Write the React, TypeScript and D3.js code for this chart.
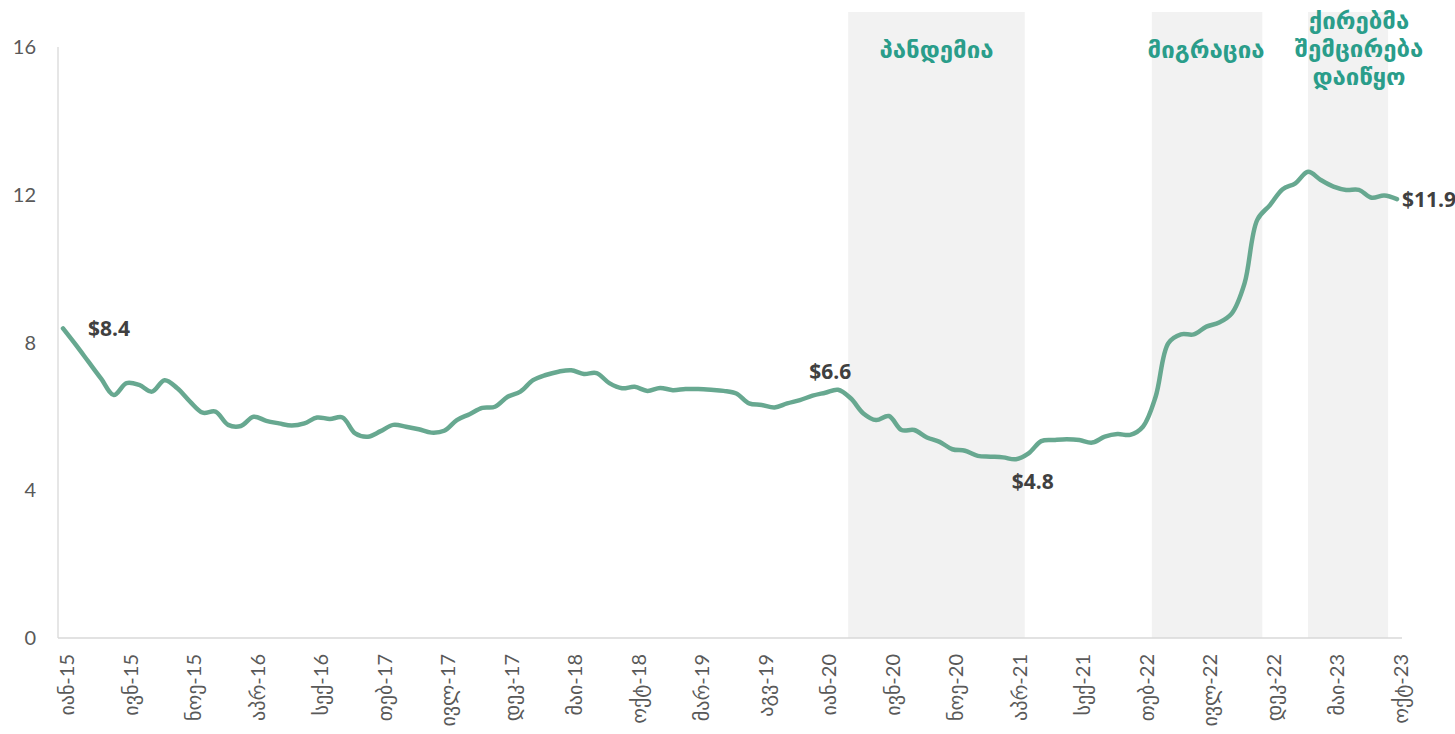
import * as d3 from "d3";

// Georgian month abbreviations, Jan..Dec
const monthNames = ["იან", "თებ", "მარ", "აპრ", "მაი", "ივნ", "ივლ", "აგვ", "სექ", "ოქტ", "ნოე", "დეკ"];
const years = [15, 16, 17, 18, 19, 20, 21, 22, 23];

// monthly rent, USD per sq.m, Jan-15 .. Oct-23
const rent = [
  8.38, 7.94, 7.48, 7.02, 6.58, 6.9, 6.85, 6.67, 6.98, 6.76, 6.4, 6.1,
  6.13, 5.77, 5.74, 5.99, 5.88, 5.81, 5.75, 5.81, 5.97, 5.93, 5.97, 5.54,
  5.45, 5.6, 5.77, 5.72, 5.65, 5.56, 5.61, 5.9, 6.06, 6.23, 6.26, 6.53,
  6.67, 6.98, 7.12, 7.21, 7.25, 7.15, 7.17, 6.9, 6.76, 6.8, 6.69, 6.77,
  6.71, 6.74, 6.74, 6.72, 6.69, 6.62, 6.35, 6.31, 6.24, 6.35, 6.44, 6.56,
  6.64, 6.72, 6.49, 6.08, 5.9, 6.01, 5.63, 5.63, 5.43, 5.31, 5.11, 5.07,
  4.93, 4.91, 4.89, 4.84, 5.0, 5.33, 5.36, 5.38, 5.36, 5.29, 5.45, 5.52,
  5.5, 5.72, 6.53, 7.98, 8.22, 8.22, 8.43, 8.54, 8.79, 9.6, 11.32, 11.72,
  12.15, 12.31, 12.62, 12.4, 12.22, 12.13, 12.13, 11.92, 11.98, 11.88,
];

const yTicks = [0, 4, 8, 12, 16];

// shaded periods, in month index from Jan-15
const bandStart = [61.8, 85.7, 98.0];
const bandEnd = [75.7, 94.4, 104.3];
const bandLabels = [["პანდემია"], ["მიგრაცია"], ["ქირებმა", "შემცირება", "დაიწყო"]];

// called-out points
const calloutIndex = [0, 60, 75, 105];
const calloutText = ["$8.4", "$6.6", "$4.8", "$11.9"];

const months = years.flatMap((y) => monthNames.map((m) => `${m}-${y}`)).slice(0, rent.length);

export default function App() {
  const width = 1455;
  const height = 734;
  const left = 63;
  const right = 1397;
  const top = 47;
  const bottom = 638;

  const x = d3.scaleLinear().domain([0, months.length - 1]).range([left, right]);
  const y = d3.scaleLinear().domain([0, 16]).range([bottom, top]);

  const line = d3
    .line<number>()
    .x((_, i) => x(i))
    .y((d) => y(d))
    .curve(d3.curveCatmullRom.alpha(0.5));

  const tickFont = "Lato, 'DejaVu Sans', sans-serif";
  const labelPos = [
    { dx: 25, dy: 8, anchor: "start" },
    { dx: 5, dy: -14, anchor: "middle" },
    { dx: 17, dy: 30, anchor: "middle" },
    { dx: 5, dy: 8, anchor: "start" },
  ];

  return (
    <svg width={width} height={height} style={{ position: "absolute", left: 0, top: 0, background: "#fff" }}>
      {bandStart.map((s, i) => (
        <rect key={i} x={x(s)} y={12} width={x(bandEnd[i]) - x(s)} height={bottom - 12} fill="#f2f2f2" />
      ))}

      <line x1={58} x2={58} y1={top} y2={bottom} stroke="#d9d9d9" strokeWidth={1.3} />
      <line x1={58} x2={1402} y1={bottom} y2={bottom} stroke="#d9d9d9" strokeWidth={1.3} />

      {yTicks.map((t) => (
        <text key={t} x={36} y={y(t)} dy="0.35em" textAnchor="end" fontFamily={tickFont} fontWeight={400} fontSize={20} fill="#595959">
          {t}
        </text>
      ))}

      {months.map((m, i) =>
        i % 5 === 0 ? (
          <text
            key={m}
            transform={`translate(${x(i) + 4},${bottom + 16}) rotate(-90)`}
            textAnchor="end"
            dy="0.35em"
            fontFamily={tickFont}
            fontWeight={400}
            fontSize={20}
            fill="#595959"
          >
            {m}
          </text>
        ) : null
      )}

      <path d={line(rent) ?? ""} fill="none" stroke="#67a890" strokeWidth={4.5} strokeLinejoin="round" strokeLinecap="round" />

      {calloutIndex.map((idx, i) => (
        <text
          key={idx}
          x={x(idx) + labelPos[i].dx}
          y={y(rent[idx]) + labelPos[i].dy}
          textAnchor={labelPos[i].anchor}
          fontFamily="'Open Sans', sans-serif"
          fontWeight={700}
          fontSize={21}
          fill="#404040"
        >
          {calloutText[i]}
        </text>
      ))}

      {bandLabels.map((lines, i) => {
        const cx = i === 2 ? 1359 : (x(bandStart[i]) + x(bandEnd[i])) / 2 + (i === 1 ? -1 : 0);
        const y0 = lines.length > 1 ? 21 : 50;
        return (
          <text key={i} textAnchor="middle" fontFamily="'DejaVu Sans', sans-serif" fontWeight={700} fontSize={24} fill="#2a9d8a">
            {lines.map((l, j) => (
              <tspan key={j} x={cx} y={y0 + j * 28} dy="0.35em">
                {l}
              </tspan>
            ))}
          </text>
        );
      })}
    </svg>
  );
}
